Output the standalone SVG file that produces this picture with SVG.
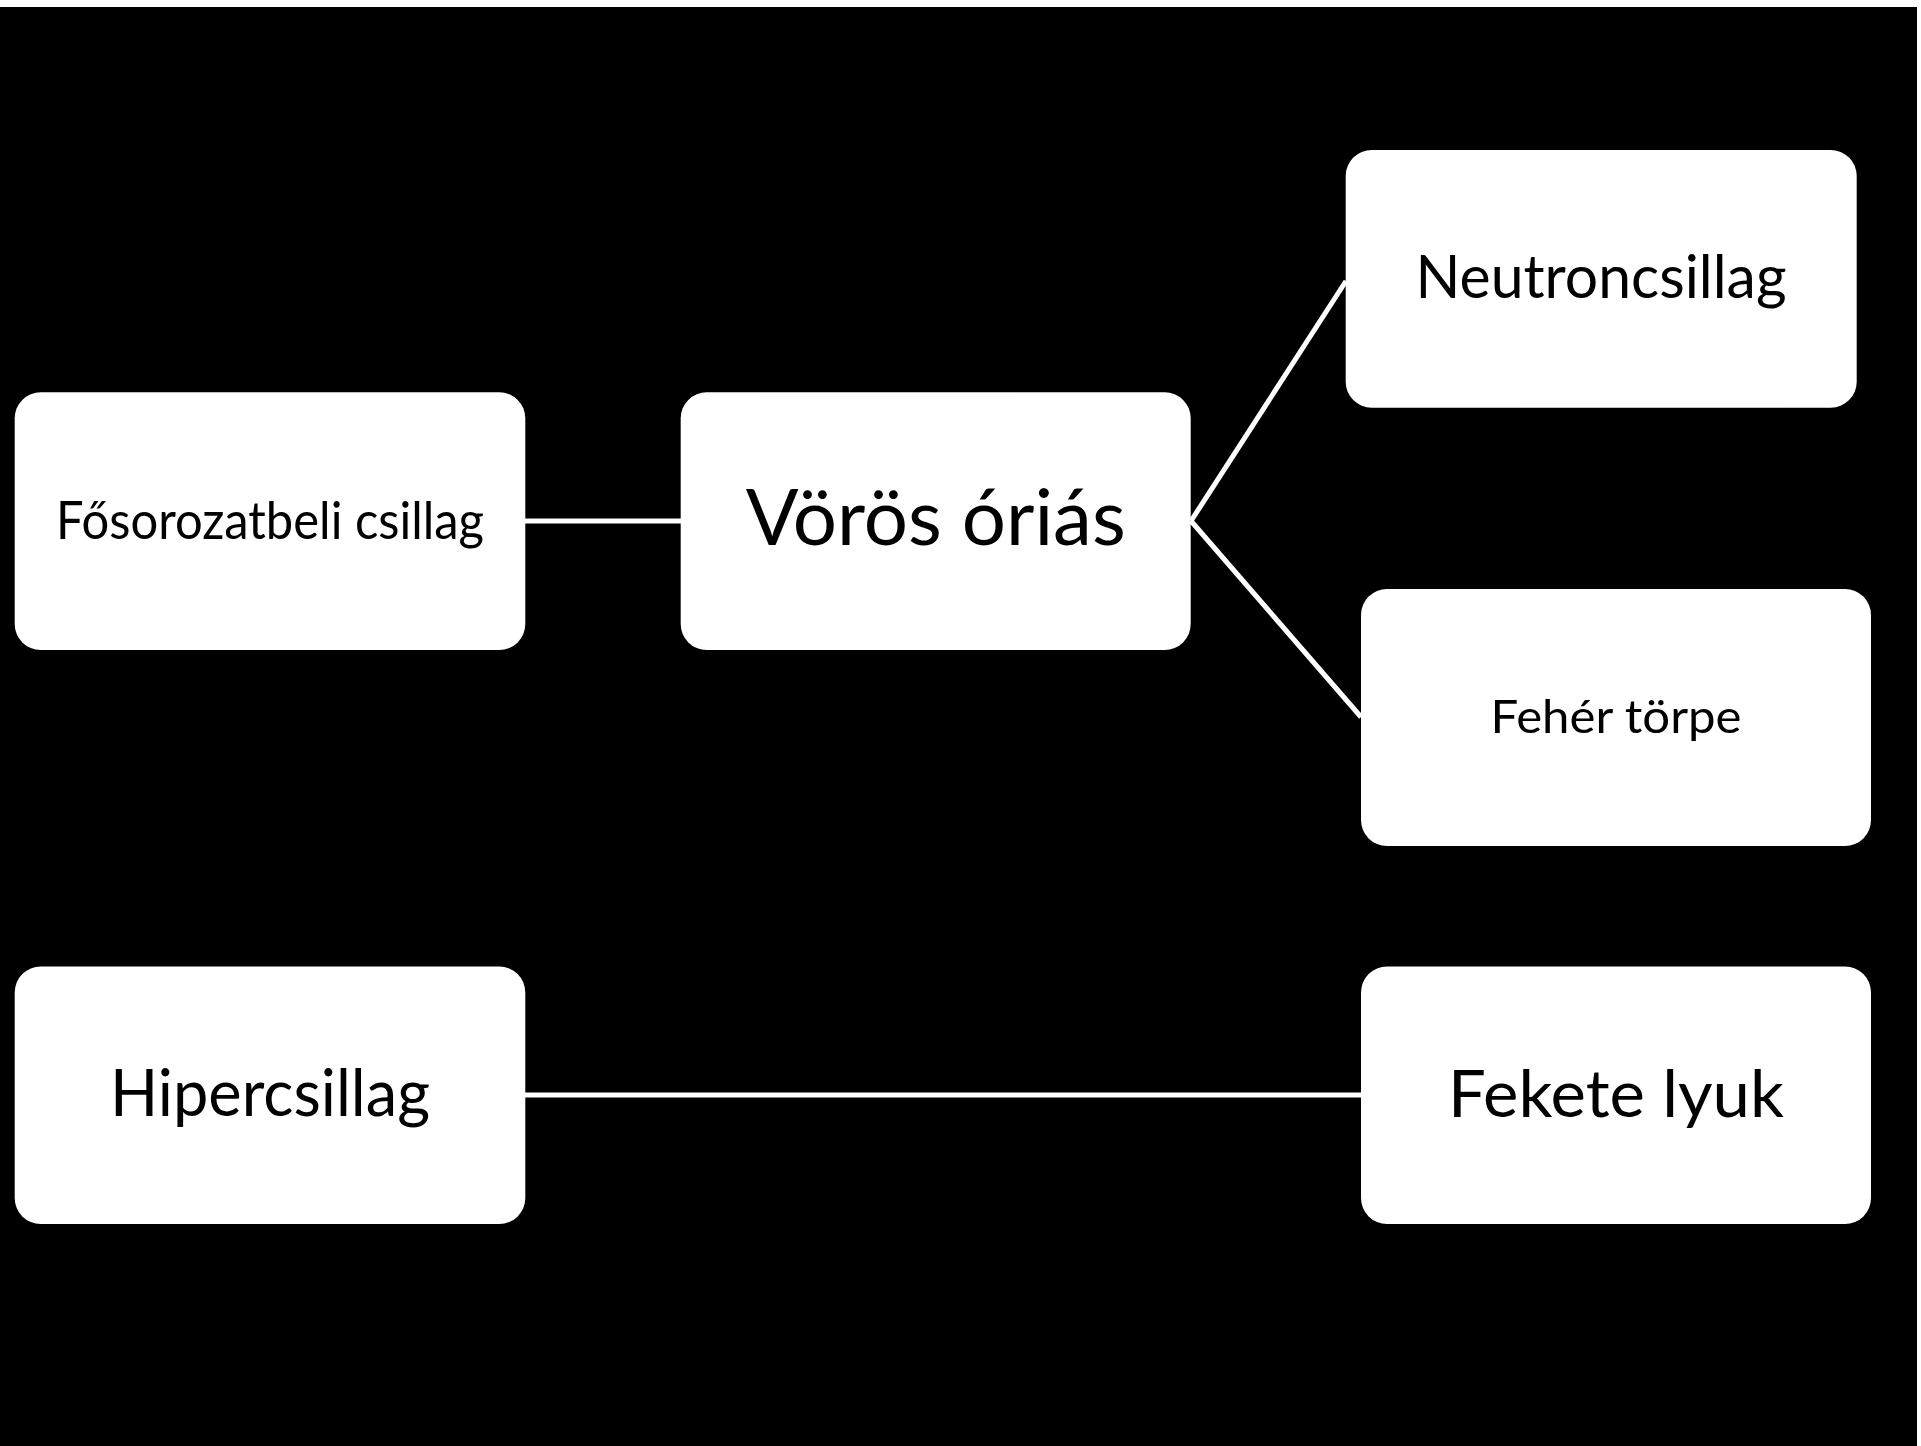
<svg xmlns="http://www.w3.org/2000/svg" width="1921" height="1446" viewBox="0 0 1921 1446">
<style>
.node{fill:#ffffff;}
.lbl{font-family:Lato,"Open Sans","Liberation Sans",sans-serif;fill:#000000;text-anchor:middle;}
.conn{stroke:#ffffff;stroke-width:5;fill:none;}
</style>
<rect x="0" y="0" width="1921" height="1446" fill="#ffffff"/>
<rect x="0" y="7" width="1917" height="1439" fill="#000000"/>
<g id="connectors">
<line class="conn" x1="525" y1="521" x2="681" y2="521"/>
<line class="conn" x1="1191" y1="521" x2="1346" y2="281"/>
<line class="conn" x1="1191" y1="521" x2="1361" y2="717"/>
<line class="conn" x1="525" y1="1095" x2="1361" y2="1095"/>
</g>
<g id="n1"><rect class="node" x="14.7" y="392.3" width="510.6" height="257.7" rx="26"/><text class="lbl" x="270" y="539" font-size="53" textLength="428" lengthAdjust="spacingAndGlyphs">Fősorozatbeli csillag</text></g>
<g id="n2"><rect class="node" x="680.7" y="392.3" width="510" height="257.7" rx="26"/><text class="lbl" x="935.7" y="545" font-size="77" textLength="380" lengthAdjust="spacingAndGlyphs">Vörös óriás</text></g>
<g id="n3"><rect class="node" x="1345.7" y="150" width="511" height="257.7" rx="26"/><text class="lbl" x="1601" y="298" font-size="60" textLength="371" lengthAdjust="spacingAndGlyphs">Neutroncsillag</text></g>
<g id="n4"><rect class="node" x="1361" y="589" width="510" height="257" rx="26"/><text class="lbl" x="1616" y="733" font-size="47" textLength="251" lengthAdjust="spacingAndGlyphs">Fehér törpe</text></g>
<g id="n5"><rect class="node" x="14.7" y="966.5" width="510.6" height="257.5" rx="26"/><text class="lbl" x="270" y="1116" font-size="65" textLength="320" lengthAdjust="spacingAndGlyphs">Hipercsillag</text></g>
<g id="n6"><rect class="node" x="1361" y="966.5" width="510" height="257.5" rx="26"/><text class="lbl" x="1616" y="1117" font-size="66" textLength="336" lengthAdjust="spacingAndGlyphs">Fekete lyuk</text></g>
</svg>
